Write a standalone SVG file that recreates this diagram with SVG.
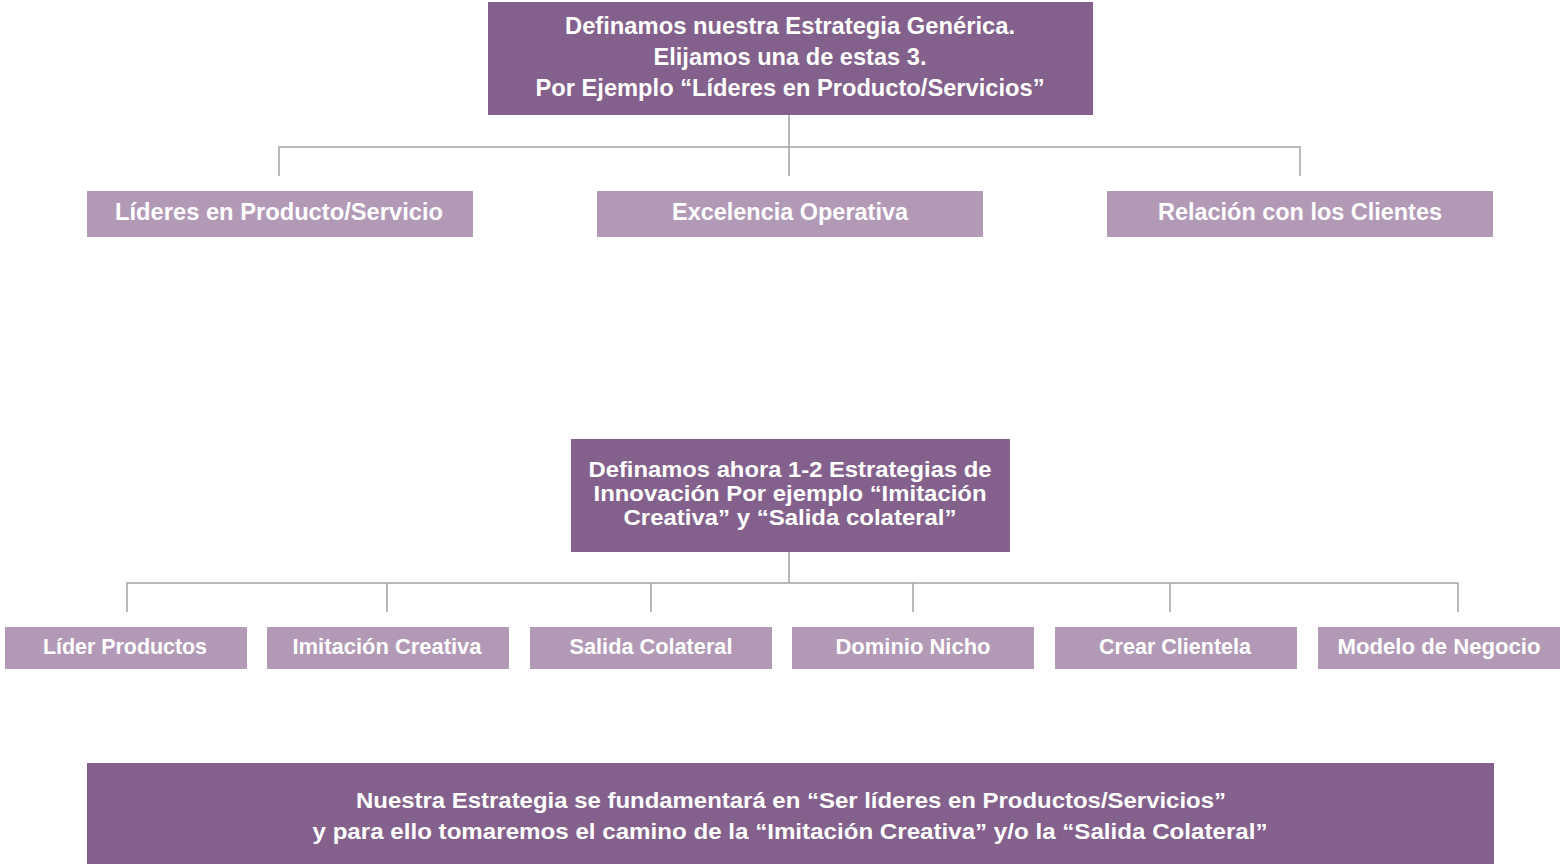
<svg xmlns="http://www.w3.org/2000/svg" width="1562" height="864" viewBox="0 0 1562 864">
<style>
.dark{fill:#84618c}
.light{fill:#b29ab7}
text{font-family:"Liberation Sans",Arial,sans-serif;font-weight:bold;fill:#ffffff;text-anchor:middle}
.t23{font-size:23px}
.t22{font-size:22px}
.conn{stroke:#a3a3a3;stroke-width:1.5;fill:none}
</style>
<rect width="1562" height="864" fill="#ffffff"/>
<g id="connectors">
<path class="conn" d="M789 115V176M279 176V147H1300V176"/>
<path class="conn" d="M789 552V583M127 612V583H1458V612M387 583V612M651 583V612M913 583V612M1170 583V612"/>
</g>
<g id="n-generic">
<rect class="dark" x="488" y="2" width="605" height="113"/>
<text class="t23" x="790" y="34" textLength="450" lengthAdjust="spacingAndGlyphs">Definamos nuestra Estrategia Genérica.</text>
<text class="t23" x="790" y="65" textLength="273" lengthAdjust="spacingAndGlyphs">Elijamos una de estas 3.</text>
<text class="t23" x="790" y="96" textLength="509" lengthAdjust="spacingAndGlyphs">Por Ejemplo “Líderes en Producto/Servicios”</text>
</g>
<g id="n-lideres">
<rect class="light" x="87" y="191" width="386" height="46"/>
<text class="t23" x="279" y="220" textLength="328" lengthAdjust="spacingAndGlyphs">Líderes en Producto/Servicio</text>
</g>
<g id="n-excelencia">
<rect class="light" x="597" y="191" width="386" height="46"/>
<text class="t23" x="790" y="220" textLength="236" lengthAdjust="spacingAndGlyphs">Excelencia Operativa</text>
</g>
<g id="n-relacion">
<rect class="light" x="1107" y="191" width="386" height="46"/>
<text class="t23" x="1300" y="220" textLength="284" lengthAdjust="spacingAndGlyphs">Relación con los Clientes</text>
</g>
<g id="n-innovacion">
<rect class="dark" x="571" y="439" width="439" height="113"/>
<text class="t22" x="790" y="477" textLength="403" lengthAdjust="spacingAndGlyphs">Definamos ahora 1-2 Estrategias de</text>
<text class="t22" x="790" y="501" textLength="393" lengthAdjust="spacingAndGlyphs">Innovación Por ejemplo “Imitación</text>
<text class="t22" x="790" y="525" textLength="333" lengthAdjust="spacingAndGlyphs">Creativa” y “Salida colateral”</text>
</g>
<g id="n-lider-productos">
<rect class="light" x="5" y="627" width="242" height="42"/>
<text class="t22" x="125" y="654" textLength="164" lengthAdjust="spacingAndGlyphs">Líder Productos</text>
</g>
<g id="n-imitacion">
<rect class="light" x="267" y="627" width="242" height="42"/>
<text class="t22" x="387" y="654" textLength="189" lengthAdjust="spacingAndGlyphs">Imitación Creativa</text>
</g>
<g id="n-salida">
<rect class="light" x="530" y="627" width="242" height="42"/>
<text class="t22" x="651" y="654" textLength="163" lengthAdjust="spacingAndGlyphs">Salida Colateral</text>
</g>
<g id="n-dominio">
<rect class="light" x="792" y="627" width="242" height="42"/>
<text class="t22" x="913" y="654" textLength="155" lengthAdjust="spacingAndGlyphs">Dominio Nicho</text>
</g>
<g id="n-crear">
<rect class="light" x="1055" y="627" width="242" height="42"/>
<text class="t22" x="1175" y="654" textLength="152" lengthAdjust="spacingAndGlyphs">Crear Clientela</text>
</g>
<g id="n-modelo">
<rect class="light" x="1318" y="627" width="242" height="42"/>
<text class="t22" x="1439" y="654" textLength="203" lengthAdjust="spacingAndGlyphs">Modelo de Negocio</text>
</g>
<g id="n-conclusion">
<rect class="dark" x="87" y="763" width="1407" height="101"/>
<text class="t22" x="791" y="808" textLength="870" lengthAdjust="spacingAndGlyphs">Nuestra Estrategia se fundamentará en “Ser líderes en Productos/Servicios”</text>
<text class="t22" x="790" y="839" textLength="955" lengthAdjust="spacingAndGlyphs">y para ello tomaremos el camino de la “Imitación Creativa” y/o la “Salida Colateral”</text>
</g>
</svg>
